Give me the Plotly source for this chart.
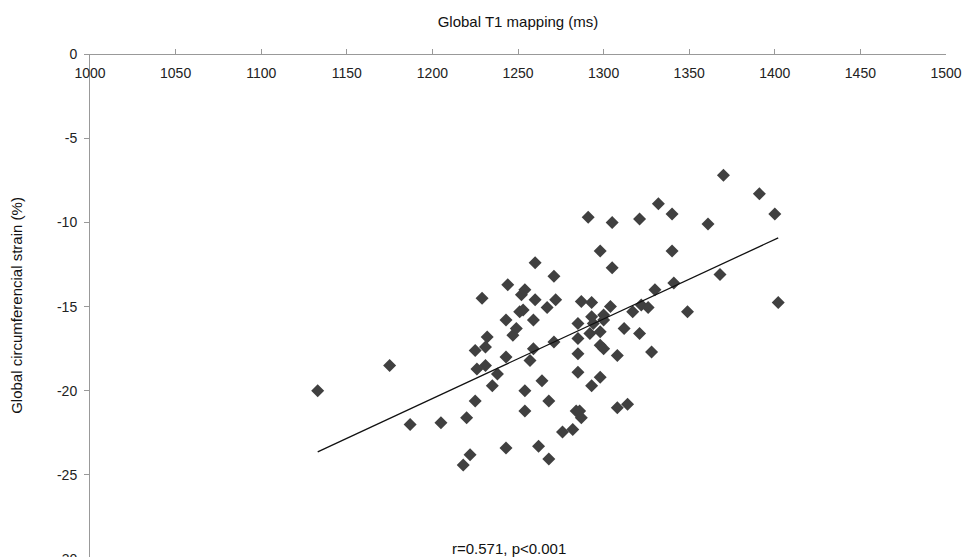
import numpy as np
import plotly.graph_objects as go

# Global T1 mapping (ms)
t1_ms = [1133, 1175, 1187, 1205, 1220, 1218, 1222, 1225, 1225, 1231,
         1232, 1229, 1226, 1231, 1235, 1238, 1243, 1243, 1243, 1244,
         1247, 1249, 1251, 1253, 1252, 1254, 1254, 1254, 1257, 1259,
         1259, 1260, 1260, 1262, 1264, 1267, 1268, 1268, 1271, 1272,
         1271, 1276, 1282, 1285, 1285, 1285, 1285, 1284, 1286, 1287,
         1287, 1293, 1291, 1298, 1293, 1294, 1292, 1293, 1298, 1298,
         1300, 1298, 1300, 1300, 1304, 1305, 1305, 1308, 1308, 1314,
         1312, 1317, 1321, 1321, 1322, 1326, 1328, 1330, 1332, 1340,
         1340, 1341, 1349, 1361, 1368, 1370, 1391, 1400, 1402]
# Global circumferential strain (%)
gcs_pct = [-20.0, -18.5, -22.0, -21.9, -21.6, -24.4, -23.8, -20.6, -17.6, -17.4,
           -16.8, -14.5, -18.7, -18.5, -19.7, -19.0, -15.8, -18.0, -23.4, -13.7,
           -16.7, -16.3, -15.3, -15.2, -14.3, -14.0, -20.0, -21.2, -18.2, -15.8,
           -17.5, -12.4, -14.6, -23.3, -19.4, -15.05, -20.6, -24.05, -13.2, -14.6,
           -17.1, -22.45, -22.3, -16.0, -16.9, -17.8, -18.9, -21.2, -21.2, -21.6,
           -14.7, -14.75, -9.7, -11.7, -15.6, -16.0, -16.6, -19.7, -16.5, -17.3,
           -17.5, -19.2, -15.5, -15.8, -15.0, -10.0, -12.7, -17.9, -21.0, -20.8,
           -16.3, -15.3, -9.8, -16.6, -14.9, -15.05, -17.7, -14.0, -8.9, -9.5,
           -11.7, -13.6, -15.3, -10.1, -13.1, -7.2, -8.3, -9.5, -14.75]

x_ticks = [1000, 1050, 1100, 1150, 1200, 1250, 1300, 1350, 1400, 1450, 1500]
y_ticks = [0, -5, -10, -15, -20, -25, -30]
y_tick_text = ["0", "-5", "-10", "-15", "-20", "-25", "-30"]
stats_label = "r=0.571, p<0.001"

x = np.array(t1_ms, dtype=float)
y = np.array(gcs_pct, dtype=float)
slope, intercept = np.polyfit(x, y, 1)
fit_x = np.array([x.min(), x.max()])
fit_y = slope * fit_x + intercept

FONT = "Liberation Sans, Arial, sans-serif"
W, H = 965, 557
Y_LO, Y_HI = -29.87, 0.0001

fig = go.Figure()
fig.add_trace(go.Scatter(
    x=t1_ms, y=gcs_pct, mode="markers",
    marker=dict(symbol="diamond", size=10, color="#404040"),
    showlegend=False, cliponaxis=False,
))
fig.add_trace(go.Scatter(
    x=fit_x, y=fit_y, mode="lines",
    line=dict(color="#111111", width=1.3),
    showlegend=False,
))

fig.add_annotation(x=1245, y=-29.35, xref="x", yref="y", text=stats_label,
                   showarrow=False, yanchor="middle",
                   font=dict(family=FONT, size=15, color="#111"))
# the -30 tick label, partly cut off by the bottom edge (range ends just above it)
fig.add_annotation(x=0, xref="paper",
                   y=(y_ticks[-1] - Y_LO) / (Y_HI - Y_LO), yref="paper",
                   text=y_tick_text[-1],
                   showarrow=False, xanchor="right", yanchor="middle", xshift=-11,
                   font=dict(family=FONT, size=14, color="#222"))

fig.update_layout(
    width=W, height=H,
    margin=dict(l=90, r=19, t=54, b=0, autoexpand=False),
    paper_bgcolor="white", plot_bgcolor="white",
    font=dict(family=FONT, size=14, color="#222"),
    title=dict(text="Global T1 mapping (ms)", x=518 / W, xref="container", xanchor="center",
               y=1 - 22 / H, yref="container", yanchor="middle",
               font=dict(family=FONT, size=15, color="#111")),
    xaxis=dict(
        range=[1000, 1500], side="bottom", anchor="free", position=1,
        tickvals=x_ticks, ticks="inside", ticklen=5, ticklabelstandoff=6,
        tickcolor="#999", showline=True, linecolor="#999", linewidth=1,
        showgrid=False, zeroline=False, automargin=False,
    ),
    yaxis=dict(
        range=[Y_LO, Y_HI], tickvals=y_ticks, ticktext=y_tick_text,
        ticks="outside", ticklen=5, ticklabelstandoff=4,
        tickcolor="#999", showline=True, linecolor="#999", linewidth=1,
        showgrid=False, zeroline=False, automargin=False,
        title=dict(text="Global circumferencial strain (%)", font=dict(size=15, color="#111"), standoff=30),
    ),
)

fig.write_html(
    "out.html",
    config={"displayModeBar": False},
    post_script=(
        "document.body.style.margin='0';"
        "document.documentElement.style.overflow='hidden';"
    ),
)
